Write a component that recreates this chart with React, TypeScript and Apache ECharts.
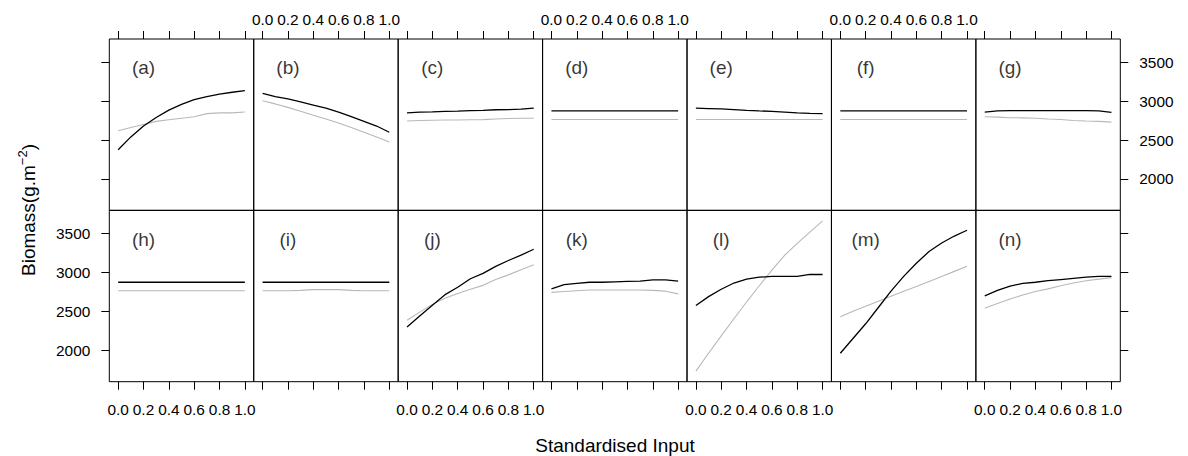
import React, { useEffect, useRef } from "react";
import * as echarts from "echarts";

const inputX = [0, 0.1, 0.2, 0.3, 0.4, 0.5, 0.6, 0.7, 0.8, 0.9, 1.0];
const xTicks = [0, 0.2, 0.4, 0.6, 0.8, 1.0];
const yTicks = [2000, 2500, 3000, 3500];
const panelLabels = ["(a)", "(b)", "(c)", "(d)", "(e)", "(f)", "(g)", "(h)", "(i)", "(j)", "(k)", "(l)", "(m)", "(n)"];
const xTitle = "Standardised Input";

const blackA = [2375, 2540, 2680, 2790, 2885, 2960, 3020, 3060, 3090, 3115, 3135];
const greyA = [2620, 2660, 2700, 2740, 2760, 2780, 2800, 2840, 2850, 2850, 2860];
const blackB = [3100, 3060, 3030, 2990, 2950, 2910, 2860, 2800, 2740, 2680, 2600];
const greyB = [3005, 2965, 2920, 2870, 2820, 2770, 2720, 2660, 2600, 2540, 2475];
const blackC = [2850, 2858, 2862, 2868, 2872, 2878, 2882, 2890, 2892, 2898, 2910];
const greyC = [2745, 2752, 2755, 2757, 2758, 2760, 2762, 2770, 2778, 2780, 2780];
const blackD = [2875, 2875, 2875, 2875, 2875, 2875, 2875, 2875, 2875, 2875, 2875];
const greyD = [2765, 2765, 2765, 2765, 2765, 2765, 2765, 2765, 2765, 2765, 2765];
const blackE = [2910, 2905, 2900, 2892, 2882, 2875, 2870, 2860, 2850, 2842, 2840];
const greyE = [2765, 2765, 2765, 2765, 2765, 2765, 2765, 2765, 2765, 2765, 2765];
const blackF = [2875, 2875, 2875, 2875, 2875, 2875, 2875, 2875, 2875, 2875, 2875];
const greyF = [2765, 2765, 2765, 2765, 2765, 2765, 2765, 2765, 2765, 2765, 2765];
const blackG = [2860, 2875, 2878, 2878, 2878, 2878, 2878, 2878, 2878, 2875, 2855];
const greyG = [2800, 2795, 2787, 2785, 2780, 2770, 2765, 2752, 2745, 2740, 2730];
const blackH = [2875, 2875, 2875, 2875, 2875, 2875, 2875, 2875, 2875, 2875, 2875];
const greyH = [2765, 2765, 2765, 2765, 2765, 2765, 2765, 2765, 2765, 2765, 2765];
const blackI = [2875, 2875, 2875, 2875, 2875, 2875, 2875, 2875, 2875, 2875, 2875];
const greyI = [2765, 2765, 2765, 2770, 2780, 2782, 2780, 2770, 2765, 2765, 2765];
const blackJ = [2300, 2440, 2580, 2715, 2810, 2920, 2990, 3080, 3155, 3225, 3300];
const greyJ = [2385, 2490, 2590, 2670, 2730, 2785, 2835, 2910, 2970, 3035, 3100];
const blackK = [2790, 2845, 2860, 2875, 2875, 2880, 2885, 2890, 2905, 2905, 2890];
const greyK = [2745, 2755, 2765, 2775, 2775, 2775, 2775, 2775, 2770, 2760, 2725];
const blackL = [2575, 2690, 2785, 2865, 2915, 2940, 2950, 2950, 2950, 2975, 2975];
const greyL = [1730, 1960, 2185, 2405, 2620, 2830, 3030, 3220, 3375, 3520, 3665];
const blackM = [1960, 2150, 2340, 2550, 2760, 2950, 3120, 3270, 3380, 3470, 3545];
const greyM = [2430, 2500, 2565, 2630, 2695, 2760, 2820, 2885, 2950, 3015, 3080];
const blackN = [2700, 2770, 2825, 2860, 2875, 2895, 2910, 2925, 2940, 2950, 2950];
const greyN = [2540, 2600, 2660, 2710, 2755, 2790, 2830, 2865, 2895, 2915, 2935];

const blackSeries = [blackA, blackB, blackC, blackD, blackE, blackF, blackG, blackH, blackI, blackJ, blackK, blackL, blackM, blackN];
const greySeries = [greyA, greyB, greyC, greyD, greyE, greyF, greyG, greyH, greyI, greyJ, greyK, greyL, greyM, greyN];

const FONT = "'Liberation Sans', Arial, Helvetica, sans-serif";

function buildOption() {
  const left0 = 109.3;
  const pw = 144.43;
  const top0 = 39;
  const ph = 171.35;
  const grid: any[] = [];
  const xAxis: any[] = [];
  const yAxis: any[] = [];
  const series: any[] = [];
  for (let i = 0; i < 14; i++) {
    const row = i < 7 ? 0 : 1;
    const col = i % 7;
    grid.push({
      left: left0 + col * pw,
      top: top0 + row * ph,
      width: pw,
      height: ph,
      show: true,
      borderColor: "#000",
      borderWidth: 1,
      backgroundColor: "transparent",
      containLabel: false,
    });
    const showXLabel = row === 0 ? col % 2 === 1 : col % 2 === 0;
    xAxis.push({
      gridIndex: i,
      type: "value",
      min: -0.07,
      max: 1.07,
      position: row === 0 ? "top" : "bottom",
      axisLine: { show: false, onZero: false },
      splitLine: { show: false },
      axisTick: {
        show: true,
        customValues: xTicks,
        length: 8,
        lineStyle: { color: "#000", width: 1 },
      },
      axisLabel: {
        show: showXLabel,
        customValues: xTicks,
        formatter: (v: number) => v.toFixed(1),
        margin: row === 0 ? 12 : 20,
        fontSize: 15.4,
        fontFamily: FONT,
        color: "#000",
      },
    });
    const yPos = col === 6 ? "right" : "left";
    const showYTicks = col === 0 || col === 6;
    const showYLabel = (col === 0 && row === 1) || (col === 6 && row === 0);
    yAxis.push({
      gridIndex: i,
      type: "value",
      min: 1594,
      max: 3801,
      position: yPos,
      axisLine: { show: false, onZero: false },
      splitLine: { show: false },
      axisTick: {
        show: showYTicks,
        customValues: yTicks,
        length: 8,
        lineStyle: { color: "#000", width: 1 },
      },
      axisLabel: {
        show: showYLabel,
        customValues: yTicks,
        formatter: (v: number) => String(Math.round(v)),
        margin: 19,
        fontSize: 15.4,
        fontFamily: FONT,
        color: "#000",
      },
    });
    series.push({
      type: "line",
      xAxisIndex: i,
      yAxisIndex: i,
      data: inputX.map((x, k) => [x, greySeries[i][k]]),
      symbol: "none",
      lineStyle: { color: "#b8b8b8", width: 1.1 },
      silent: true,
    });
    series.push({
      type: "line",
      xAxisIndex: i,
      yAxisIndex: i,
      data: inputX.map((x, k) => [x, blackSeries[i][k]]),
      symbol: "none",
      lineStyle: { color: "#000", width: 1.3 },
      silent: true,
    });
    series.push({
      type: "scatter",
      xAxisIndex: i,
      yAxisIndex: i,
      data: [[0.2, 3430]],
      symbol: "circle",
      symbolSize: 1,
      itemStyle: { color: "transparent" },
      silent: true,
      label: {
        show: true,
        position: "inside",
        formatter: () => panelLabels[i],
        fontSize: 19,
        fontFamily: FONT,
        color: "#000",
      },
    });
  }
  return {
    animation: false,
    backgroundColor: "#fff",
    grid,
    xAxis,
    yAxis,
    series,
    graphic: [
      {
        type: "text",
        x: 615,
        y: 445,
        style: {
          text: xTitle,
          fontSize: 19,
          fontFamily: FONT,
          fill: "#000",
          align: "center",
          verticalAlign: "middle",
        },
      },
      {
        type: "text",
        x: 27,
        y: 210,
        rotation: Math.PI / 2,
        style: {
          text: "{a|Biomass(g.m}{s|−2}{a|)}",
          align: "center",
          verticalAlign: "middle",
          fill: "#000",
          rich: {
            a: { fontSize: 19, fontFamily: FONT, fill: "#000", lineHeight: 22, padding: [8, 0, 0, 0], verticalAlign: "bottom" },
            s: { fontSize: 13, fontFamily: FONT, fill: "#000", lineHeight: 14, verticalAlign: "top" },
          },
        },
      },
    ],
  };
}

export default function App() {
  const ref = useRef<HTMLDivElement>(null);
  useEffect(() => {
    document.body.style.margin = "0";
    if (!ref.current) return;
    const chart = echarts.init(ref.current, undefined, { renderer: "svg" });
    chart.setOption(buildOption() as any);
    return () => chart.dispose();
  }, []);
  return <div ref={ref} style={{ width: 1188, height: 456 }} />;
}
